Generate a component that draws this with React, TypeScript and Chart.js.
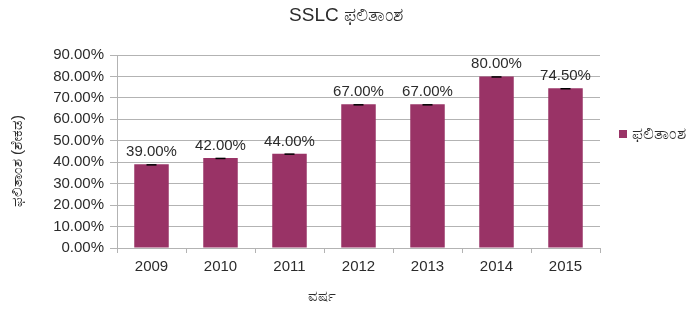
import React, { useEffect, useRef } from "react";
import { Chart, registerables } from "chart.js";

Chart.register(...registerables);

const categories: string[] = ["2009", "2010", "2011", "2012", "2013", "2014", "2015"];
const passRates: number[] = [39, 42, 44, 67, 67, 80, 74.5];
const yTickValues: number[] = [0, 10, 20, 30, 40, 50, 60, 70, 80, 90];
const seriesName = "ಫಲಿತಾಂಶ";
const chartTitle = "SSLC ಫಲಿತಾಂಶ";
const yAxisTitle = "ಫಲಿತಾಂಶ (ಶೇಕಡ)";
const xAxisTitle = "ವರ್ಷ";

const FONT = "'Liberation Sans', Arial, sans-serif";
const TEXT = "#2b2b2b";
const GRID = "#b3b3b3";
const BAR = "#993366";

const fmt = (v: number) => v.toFixed(2) + "%";

export default function App() {
  const ref = useRef<HTMLCanvasElement | null>(null);

  useEffect(() => {
    if (!ref.current) return;

    const overlay = {
      id: "overlay",
      afterDatasetsDraw(chart: any) {
        const ctx = chart.ctx;
        const meta = chart.getDatasetMeta(0);
        ctx.save();
        // error caps and data labels
        meta.data.forEach((bar: any, i: number) => {
          ctx.strokeStyle = "#000000";
          ctx.lineWidth = 1.5;
          ctx.beginPath();
          ctx.moveTo(bar.x - 5, bar.y + 0.5);
          ctx.lineTo(bar.x + 5, bar.y + 0.5);
          ctx.stroke();
          ctx.fillStyle = TEXT;
          ctx.font = `15px ${FONT}`;
          ctx.textAlign = "center";
          ctx.textBaseline = "alphabetic";
          ctx.fillText(fmt(passRates[i]), bar.x, bar.y - 8);
        });
        // title
        ctx.fillStyle = TEXT;
        ctx.font = `19px ${FONT}`;
        ctx.textAlign = "center";
        ctx.textBaseline = "middle";
        ctx.fillText(chartTitle, 346, 16);
        // axis titles
        ctx.font = `15px ${FONT}`;
        ctx.fillText(xAxisTitle, 322, 297);
        ctx.save();
        ctx.translate(18, 161);
        ctx.rotate(-Math.PI / 2);
        ctx.fillText(yAxisTitle, 0, 0);
        ctx.restore();
        // legend
        ctx.fillStyle = BAR;
        ctx.fillRect(619, 130, 8, 8);
        ctx.fillStyle = TEXT;
        ctx.font = `17px ${FONT}`;
        ctx.textAlign = "left";
        ctx.textBaseline = "middle";
        ctx.fillText(seriesName, 632, 134);
        ctx.restore();
      },
    };

    const chart = new Chart(ref.current, {
      type: "bar",
      data: {
        labels: categories,
        datasets: [
          {
            label: seriesName,
            data: passRates,
            backgroundColor: BAR,
            borderWidth: 0,
            categoryPercentage: 1,
            barPercentage: 0.5,
          },
        ],
      },
      options: {
        responsive: false,
        animation: false,
        layout: { padding: { left: 0, top: 55, right: 90, bottom: 0 } },
        plugins: {
          legend: { display: false },
          title: { display: false },
          tooltip: { enabled: false },
        },
        scales: {
          x: {
            afterFit: (s: any) => {
              s.height = 62;
            },
            grid: {
              offset: true,
              drawOnChartArea: true,
              color: (c: any) => (c.index === categories.length ? GRID : "rgba(0,0,0,0)"),
              tickColor: GRID,
              tickLength: 5,
            },
            border: { display: true, color: GRID },
            ticks: {
              color: TEXT,
              font: { family: FONT, size: 15 },
              padding: 5,
            },
          },
          y: {
            min: 0,
            max: 90,
            afterFit: (s: any) => {
              s.width = 117;
            },
            afterBuildTicks: (s: any) => {
              s.ticks = yTickValues.map((v) => ({ value: v }));
            },
            grid: {
              color: GRID,
              tickColor: GRID,
              tickLength: 7,
            },
            border: { display: true, color: GRID },
            ticks: {
              color: TEXT,
              font: { family: FONT, size: 15 },
              padding: 6,
              callback: (v: any) => fmt(Number(v)),
            },
          },
        },
      },
      plugins: [overlay],
    });

    return () => chart.destroy();
  }, []);

  return (
    <div style={{ position: "absolute", left: 0, top: 0, width: 690, height: 310, background: "#ffffff" }}>
      <canvas ref={ref} width={690} height={310} style={{ display: "block" }} />
    </div>
  );
}
